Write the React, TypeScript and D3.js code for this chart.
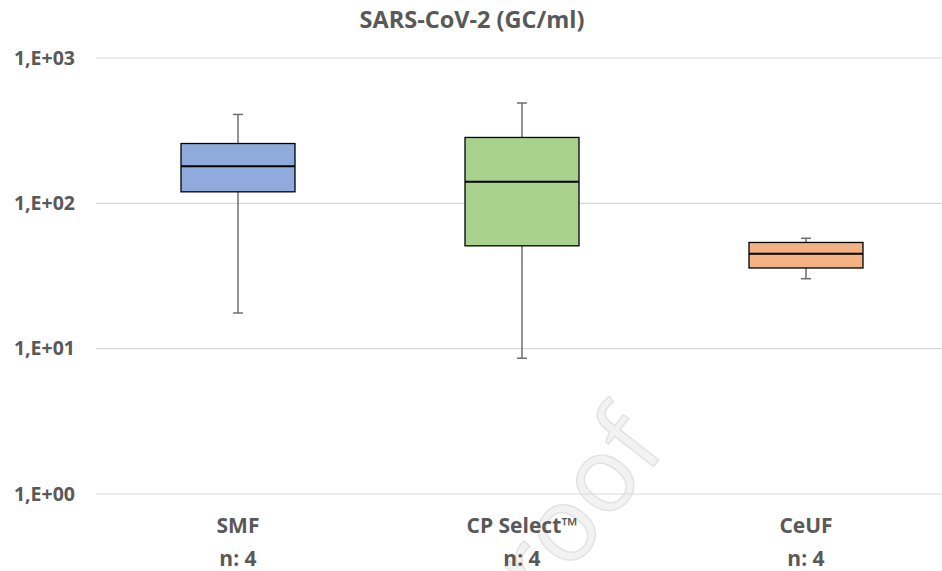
import React from 'react';
import * as d3 from 'd3';

const width = 942;
const height = 571;
const marginLeft = 96;
const marginRight = -6;
const yTop = 58;
const yBottom = 494;

const categories = ['SMF', 'CP Select™', 'CeUF'];
const counts = [4, 4, 4];
const mins = [17.6, 8.6, 30.3];
const q1s = [120, 51, 35.9];
const medians = [180, 141, 45];
const q3s = [258, 284, 53.8];
const maxs = [409, 490, 57.5];
const fills = ['#8faadc', '#a9d18e', '#f4b183'];

const yTicks = [1, 10, 100, 1000];
const yTickLabels = ['1,E+00', '1,E+01', '1,E+02', '1,E+03'];

const textColor = '#595959';
const font = "'Open Sans', 'Noto Sans', sans-serif";

const App = () => {
  const x = d3
    .scaleBand()
    .domain(categories)
    .range([marginLeft, width - marginRight])
    .paddingInner(0.6)
    .paddingOuter(0.3);

  const y = d3.scaleLog().domain([1, 1000]).range([yBottom, yTop]);

  const boxW = 114;
  const capW = 10;

  return (
    <svg width={width} height={height} style={{ position: 'absolute', left: 0, top: 0, background: '#fff' }}>
      {/* watermark */}
      <text
        x={0}
        y={0}
        transform="translate(668,448) rotate(-52)"
        textAnchor="end"
        fontFamily={font}
        fontSize={104}
        fill="#f2f2f2"
        stroke="#e2e2e2"
        strokeWidth={1.4}
      >
        Journal Pre-proof
      </text>

      <text x={472} y={28} textAnchor="middle" fontFamily={font} fontWeight="bold" fontSize={23.5} fill={textColor}>
        SARS-CoV-2 (GC/ml)
      </text>

      {yTicks.map((t, i) => (
        <g key={t}>
          <line x1={marginLeft} x2={width} y1={y(t)} y2={y(t)} stroke="#d9d9d9" strokeWidth={1.2} />
          <text
            x={75}
            y={y(t)}
            dy="0.35em"
            textAnchor="end"
            fontFamily={font}
            fontWeight="bold"
            fontSize={19.5}
            fill={textColor}
          >
            {yTickLabels[i]}
          </text>
        </g>
      ))}

      {categories.map((c, i) => {
        const cx = (x(c) as number) + x.bandwidth() / 2;
        return (
          <g key={c}>
            <line x1={cx} x2={cx} y1={y(maxs[i])} y2={y(q3s[i])} stroke="#6e6e6e" strokeWidth={1.5} />
            <line x1={cx} x2={cx} y1={y(q1s[i])} y2={y(mins[i])} stroke="#6e6e6e" strokeWidth={1.5} />
            <line x1={cx - capW / 2} x2={cx + capW / 2} y1={y(maxs[i])} y2={y(maxs[i])} stroke="#6e6e6e" strokeWidth={1.5} />
            <line x1={cx - capW / 2} x2={cx + capW / 2} y1={y(mins[i])} y2={y(mins[i])} stroke="#6e6e6e" strokeWidth={1.5} />
            <rect
              x={cx - boxW / 2}
              y={y(q3s[i])}
              width={boxW}
              height={y(q1s[i]) - y(q3s[i])}
              fill={fills[i]}
              stroke="#000"
              strokeWidth={1.3}
            />
            <line x1={cx - boxW / 2} x2={cx + boxW / 2} y1={y(medians[i])} y2={y(medians[i])} stroke="#000" strokeWidth={2} />
            <text x={cx} y={533} textAnchor="middle" fontFamily={font} fontWeight="bold" fontSize={21} fill={textColor}>
              {c}
            </text>
            <text x={cx} y={566} textAnchor="middle" fontFamily={font} fontWeight="bold" fontSize={21} fill={textColor}>
              n: {counts[i]}
            </text>
          </g>
        );
      })}
    </svg>
  );
};

export default App;
